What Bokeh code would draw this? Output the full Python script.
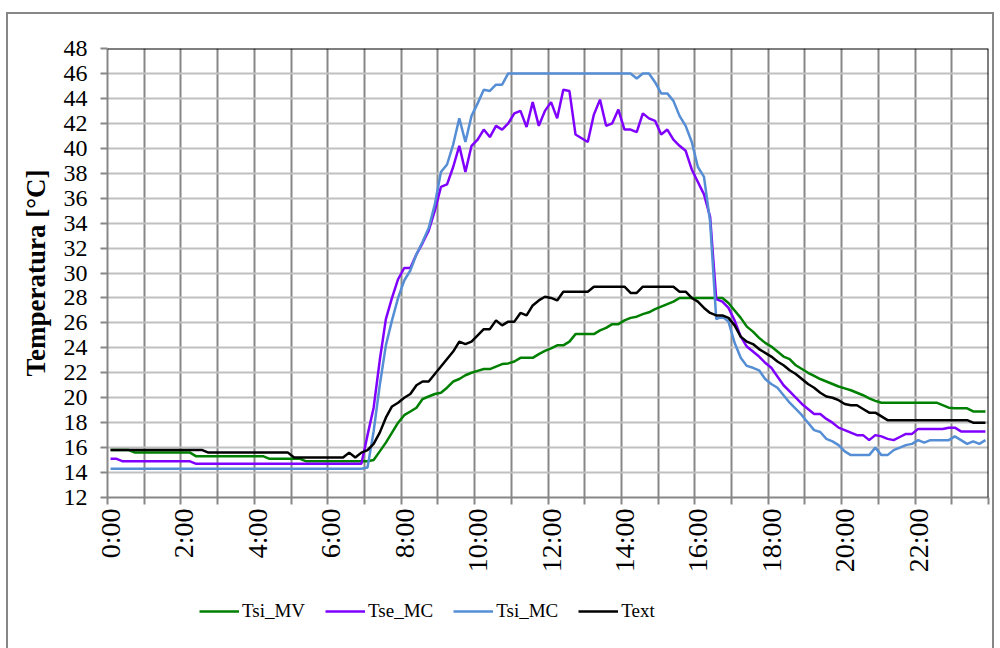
import math
from bokeh.plotting import figure
from bokeh.layouts import column
from bokeh.models import (FixedTicker, Span, Legend, LegendItem,
                          Range1d, ColumnDataSource)
from bokeh.embed import file_html
from bokeh.resources import INLINE

# ---------------- data (10-minute readings, 0:00 .. 23:50) ----------------
times = [f"{m // 60}:{m % 60:02d}" for m in range(0, 1440, 10)]

tsi_mv = ([15.8] * 4 + [15.6] * 10 + [15.3] * 12 + [15.1] * 6 + [14.9] * 11 +
          [15.0, 15.7, 16.4, 17.2, 18.0, 18.6, 18.9, 19.2, 19.9, 20.1, 20.3, 20.4,
           20.8, 21.3, 21.5, 21.8, 22.0, 22.15, 22.3, 22.3, 22.5, 22.7, 22.75, 22.9,
           23.2, 23.2, 23.2, 23.5, 23.75, 23.95, 24.2, 24.2, 24.5,
           25.1, 25.1, 25.1, 25.1, 25.4, 25.6, 25.9, 25.9, 26.2, 26.4, 26.5, 26.7,
           26.85, 27.1, 27.3, 27.5, 27.7] +
          [28.0] * 8 +
          [27.6, 27.0, 26.4, 25.7, 25.3, 24.8, 24.4, 24.1, 23.7, 23.3, 23.1, 22.6,
           22.3, 22.0, 21.75, 21.5, 21.3, 21.1, 20.9, 20.75, 20.6, 20.4, 20.2, 19.95,
           19.75] +
          [19.6] * 10 + [19.4, 19.2, 19.15, 19.15, 19.15, 18.9, 18.9, 18.9])

tse_mc = ([15.1] * 2 + [14.9] * 12 + [14.7] * 28 +
          [17.0, 19.2, 23.0, 26.3, 28.0, 29.5, 30.4, 30.4, 31.5, 32.4, 33.4, 35.0,
           36.9, 37.1, 38.5, 40.2, 38.1, 40.2, 40.7, 41.5, 40.9, 41.8, 41.5, 42.0,
           42.8, 43.0, 41.7, 43.7, 41.8, 43.0, 43.7, 42.4, 44.7, 44.6, 41.1, 40.8,
           40.5, 42.7, 43.9, 41.8, 42.0, 43.1, 41.5, 41.5, 41.3, 42.8, 42.4, 42.2,
           41.1, 41.5, 40.7, 40.2, 39.8, 38.3, 37.3, 36.3, 34.5, 27.9, 27.7, 27.2,
           26.2, 24.9, 24.1, 23.7, 23.3, 22.8, 22.4, 21.7, 21.0, 20.5, 20.0, 19.5,
           19.1, 18.7, 18.7, 18.3, 18.0, 17.6, 17.4, 17.2, 17.0, 17.0, 16.6, 17.0,
           16.9, 16.7, 16.6, 16.85, 17.1, 17.1] +
          [17.5] * 5 + [17.6, 17.6, 17.3] + [17.3] * 4)

tsi_mc = ([14.3] * 42 +
          [14.4, 17.3, 21.0, 24.2, 26.2, 28.0, 29.4, 30.2, 31.5, 32.5, 33.6, 35.5,
           38.1, 38.7, 40.3, 42.4, 40.5, 42.6, 43.6, 44.7, 44.6, 45.1, 45.1] +
          [46.0] * 21 +
          [45.6, 46.0, 46.0, 45.3, 44.4, 44.4, 43.8, 42.6, 41.8, 40.5, 38.5, 37.7,
           34.1, 26.3, 26.5, 26.1, 24.4, 23.2, 22.55, 22.4, 22.2, 21.5, 21.1, 20.8,
           20.2, 19.6, 19.1, 18.6, 18.0, 17.4, 17.25, 16.7, 16.5, 16.2, 15.7,
           15.4, 15.4, 15.4, 15.4, 16.0, 15.4, 15.4, 15.8, 16.0, 16.2, 16.3, 16.6,
           16.4, 16.6, 16.6, 16.6, 16.6, 16.9, 16.6, 16.3, 16.5, 16.3, 16.6])

text_t = ([15.8] * 16 + [15.6] * 14 + [15.2] * 9 +
          [15.6, 15.2, 15.6, 15.8, 16.3, 17.2, 18.4, 19.3, 19.6, 20.0, 20.3, 21.0,
           21.3, 21.3, 21.9, 22.5, 23.1, 23.7, 24.5, 24.3, 24.5, 25.0, 25.5, 25.5,
           26.2, 25.8, 26.1, 26.1, 26.8, 26.6, 27.4, 27.8, 28.1, 28.0, 27.8] +
          [28.5] * 5 + [28.9] * 6 + [28.4, 28.4] + [28.9] * 6 +
          [28.5, 28.5, 28.0, 27.7, 27.2, 26.8, 26.6, 26.6, 26.4, 25.8, 24.9, 24.5,
           24.3, 23.9, 23.6, 23.3, 22.9, 22.6, 22.2, 21.9, 21.5, 21.1, 20.8, 20.4,
           20.1, 20.0, 19.8, 19.5, 19.4, 19.4, 19.1, 18.8, 18.8, 18.5] +
          [18.2] * 14 + [18.0] * 3)

series_names = ["Tsi_MV", "Tse_MC", "Tsi_MC", "Text"]
series_colors = ["#008000", "#8000ff", "#558ed5", "#000000"]
series_values = [tsi_mv, tse_mc, tsi_mc, text_t]

tick_labels = ["0:00", "2:00", "4:00", "6:00", "8:00", "10:00",
               "12:00", "14:00", "16:00", "18:00", "20:00", "22:00"]
y_ticks = list(range(12, 49, 2))

# ---------------- main chart ----------------
GRID_DARK = "#878787"
FONT = "Liberation Serif"
W = 984

n = len(times)
xs = [i + 0.5 for i in range(n)]

p = figure(width=W, height=574, output_backend="svg", toolbar_location=None,
           x_range=Range1d(0, n), y_range=Range1d(12, 48),
           min_border_left=99, min_border_right=4, min_border_top=34,
           min_border_bottom=91)
p.outline_line_color = None
p.background_fill_color = "white"
p.border_fill_color = "white"

p.xgrid.ticker = FixedTicker(ticks=list(range(0, n + 1, 6)))
p.xgrid.grid_line_color = GRID_DARK
p.xgrid.grid_line_width = 2
p.ygrid.ticker = FixedTicker(ticks=y_ticks)
p.ygrid.grid_line_color = "#c0c0c0"
p.ygrid.grid_line_width = 2

label_pos = [i * 12 + 0.5 for i in range(len(tick_labels))]
p.xaxis.ticker = FixedTicker(ticks=label_pos, minor_ticks=list(range(0, n + 1, 6)))
p.xaxis.major_label_overrides = {pos: lab for pos, lab in zip(label_pos, tick_labels)}
p.xaxis.major_tick_line_color = None
p.xaxis.major_tick_out = 7
p.xaxis.major_tick_in = 0
p.xaxis.minor_tick_line_color = GRID_DARK
p.xaxis.minor_tick_line_width = 2
p.xaxis.minor_tick_out = 7
p.xaxis.minor_tick_in = 0
p.xaxis.axis_line_color = GRID_DARK
p.xaxis.axis_line_width = 2
p.xaxis.major_label_orientation = math.pi / 2
p.xaxis.major_label_text_font = FONT
p.xaxis.major_label_text_font_size = "28px"
p.xaxis.major_label_text_color = "black"
p.xaxis.major_label_standoff = 4

p.yaxis.ticker = FixedTicker(ticks=y_ticks)
p.yaxis.major_tick_line_color = GRID_DARK
p.yaxis.major_tick_line_width = 2
p.yaxis.major_tick_out = 7
p.yaxis.major_tick_in = 0
p.yaxis.minor_tick_line_color = None
p.yaxis.axis_line_color = GRID_DARK
p.yaxis.axis_line_width = 2
p.yaxis.major_label_text_font = FONT
p.yaxis.major_label_text_font_size = "24px"
p.yaxis.major_label_text_color = "black"
p.yaxis.major_label_standoff = 13
p.yaxis.axis_label = "Temperatura [°C]"
p.yaxis.axis_label_text_font = FONT
p.yaxis.axis_label_text_font_style = "bold"
p.yaxis.axis_label_text_font_size = "27px"
p.yaxis.axis_label_text_color = "black"
p.yaxis.axis_label_standoff = 10

p.add_layout(Span(location=48, dimension="width", line_color="black", line_width=2))
p.add_layout(Span(location=n, dimension="height", line_color="black", line_width=2))

for color, vals in zip(series_colors, series_values):
    src = ColumnDataSource(data=dict(x=xs, y=vals))
    p.line("x", "y", source=src, line_color=color, line_width=2.5)

# ---------------- legend strip ----------------
# the same series are drawn here far outside the visible range; only their
# legend samples show
leg = figure(width=W, height=60, output_backend="svg", toolbar_location=None,
             x_axis_type=None, y_axis_type=None,
             x_range=Range1d(0, n), y_range=Range1d(100, 101),
             min_border_left=0, min_border_right=0, min_border_top=0,
             min_border_bottom=0)
leg.outline_line_color = None
leg.background_fill_color = "white"
leg.border_fill_color = "white"
leg.xgrid.visible = False
leg.ygrid.visible = False
items = []
for name, color, vals in zip(series_names, series_colors, series_values):
    src = ColumnDataSource(data=dict(x=xs, y=vals))
    r = leg.line("x", "y", source=src, line_color=color, line_width=2.5)
    items.append(LegendItem(label=name, renderers=[r]))
legend = Legend(items=items, orientation="horizontal", location=(92, 26),
                border_line_color=None, background_fill_alpha=0,
                label_text_font=FONT, label_text_font_size="19px",
                label_text_color="black",
                glyph_width=40, glyph_height=20, label_standoff=3,
                spacing=20, padding=0, margin=0)
leg.add_layout(legend)

page = column(p, leg, spacing=0,
              styles={"margin-left": "6px", "margin-top": "12px",
                      "border-left": f"2px solid {GRID_DARK}",
                      "border-top": f"2px solid {GRID_DARK}",
                      "border-right": f"2px solid {GRID_DARK}"})

open("out.html", "w").write(file_html(page, INLINE))
